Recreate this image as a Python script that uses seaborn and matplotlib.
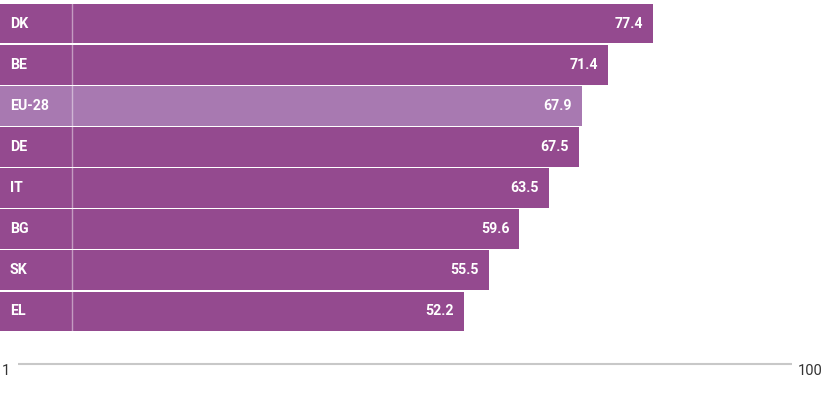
import matplotlib
matplotlib.use("Agg")
import matplotlib.pyplot as plt
import seaborn as sns
import pandas as pd

# values
countries = ["DK", "BE", "EU-28", "DE", "IT", "BG", "SK", "EL"]
scores = [77.4, 71.4, 67.9, 67.5, 63.5, 59.6, 55.5, 52.2]
axis_min_label = "1"
axis_max_label = "100"

purple = "#944A8F"
light_purple = "#A879B1"
palette = {c: (light_purple if c == "EU-28" else purple) for c in countries}

df = pd.DataFrame({"country": countries, "score": scores})

sns.set_theme(style="white")
plt.rcParams["font.family"] = ["Roboto", "DejaVu Sans"]

W, H = 823, 395
fig = plt.figure(figsize=(W / 100, H / 100), dpi=100)

# bar area: label column of ~72 px, then 7.5 px per unit
label_w = 72.5 / 7.5
ax = fig.add_axes([0, 1 - 332 / H, 1, 329 / H])
sns.barplot(data=df, x="score", y="country", hue="country", palette=palette,
            orient="h", width=0.965, legend=False, ax=ax, saturation=1)

# stretch each bar back under the label column
for p in ax.patches:
    p.set_x(-label_w)
    p.set_width(p.get_width() + label_w)
    p.set_linewidth(0)

ax.set_xlim(-label_w, (W - 72.5) / 7.5)
ax.axvline(0, color="white", alpha=0.45, lw=1)
ax.set_axis_off()

for i, (c, v) in enumerate(zip(countries, scores)):
    ax.text(-label_w + 10 / 7.5, i, c, color="white", fontweight="bold",
            fontsize=10.2, va="center", ha="left")
    ax.text(v - 10 / 7.5, i, f"{v:.1f}", color="white", fontweight="bold",
            fontsize=10.2, va="center", ha="right")

# bottom scale line
ax2 = fig.add_axes([18 / W, 1 - 366 / H, (792 - 18) / W, 4 / H])
ax2.axhline(0.5, color="#c8c8c8", lw=1.5)
ax2.set_xlim(0, 1)
ax2.set_ylim(0, 1)
ax2.set_axis_off()
fig.text(2 / W, 1 - 371 / H, axis_min_label, color="#333333", fontsize=10.5,
         ha="left", va="center")
fig.text(823 / W, 1 - 371 / H, axis_max_label, color="#333333", fontsize=10.5,
         ha="right", va="center")

fig.savefig("out.png", dpi=100)
